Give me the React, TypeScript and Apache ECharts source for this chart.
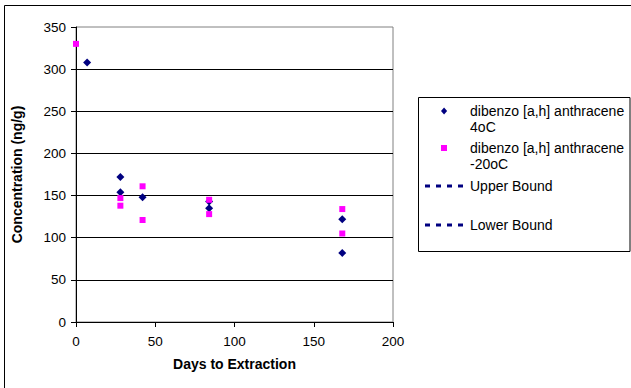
import React, { useEffect, useRef } from "react";
import * as echarts from "echarts";

const FONT = "'Liberation Sans', Arial, Helvetica, sans-serif";

const seriesNames = [
  "dibenzo [a,h] anthracene\n4oC",
  "dibenzo [a,h] anthracene\n-20oC",
  "Upper Bound",
  "Lower Bound",
];

// Days to extraction / concentration (ng/g)
const days4C = [7, 28, 28, 42, 84, 84, 168, 168];
const conc4C = [308, 172, 154, 148, 143, 135, 122, 82];
const daysMinus20C = [0, 28, 28, 42, 42, 84, 84, 168, 168];
const concMinus20C = [330, 147, 138, 161, 121, 145, 128, 134, 105];

// axis ticks
const xTicks = [0, 50, 100, 150, 200];
const yTicks = [0, 50, 100, 150, 200, 250, 300, 350];

const DIAMOND = "path://M3.5,0L7,4L3.5,8L0,4Z";
const SQUARE = "path://M0,0L6,0L6,6L0,6Z";
const DASHES = "path://M0,0h5v3h-5zM11,0h5v3h-5zM22,0h5v3h-5zM33,0h5v3h-5z";

const legendItem = (
  name: string,
  left: number,
  top: number,
  icon: string,
  h: number,
  color: string,
  multiLine: boolean
) => ({
  show: true,
  orient: "vertical",
  left,
  top,
  padding: 0,
  itemWidth: 42,
  itemHeight: h,
  icon,
  symbolKeepAspect: true,
  selectedMode: false,
  data: [{ name, icon }],
  itemStyle: { color, borderWidth: 0 },
  formatter: multiLine ? (n: string) => "\n" + n : undefined,
  textStyle: {
    fontFamily: FONT,
    fontSize: 14,
    color: "#000",
    lineHeight: 16,
  },
});

export default function App() {
  const ref = useRef<HTMLDivElement>(null);

  useEffect(() => {
    document.body.style.margin = "0";
    if (!ref.current) return;
    const chart = echarts.init(ref.current, null, { renderer: "svg" });

    const axisText = { fontFamily: FONT, fontSize: 13.5, color: "#000" };
    const nameText = { fontFamily: FONT, fontSize: 14, fontWeight: "bold", color: "#000" };

    chart.setOption({
      animation: false,
      backgroundColor: "#fff",
      grid: {
        left: 76,
        right: 238,
        top: 27,
        bottom: 66,
        show: true,
        backgroundColor: "#fff",
        borderColor: "#808080",
        borderWidth: 1,
        containLabel: false,
      },
      xAxis: {
        type: "value",
        min: xTicks[0],
        max: xTicks[xTicks.length - 1],
        interval: xTicks[1] - xTicks[0],
        name: "Days to Extraction",
        nameLocation: "middle",
        nameGap: 35,
        nameTextStyle: nameText,
        axisLine: { show: true, onZero: false, lineStyle: { color: "#000", width: 1 } },
        axisTick: { show: true, inside: false, length: 5, lineStyle: { color: "#000" } },
        axisLabel: { ...axisText, margin: 12 },
        splitLine: { show: false },
      },
      yAxis: {
        type: "value",
        min: yTicks[0],
        max: yTicks[yTicks.length - 1],
        interval: yTicks[1] - yTicks[0],
        name: "Concentration (ng/g)",
        nameLocation: "middle",
        nameRotate: 90,
        nameGap: 52,
        nameTextStyle: nameText,
        axisLine: { show: true, onZero: false, lineStyle: { color: "#000", width: 1 } },
        axisTick: { show: true, inside: false, length: 5, lineStyle: { color: "#000" } },
        axisLabel: { ...axisText, margin: 10 },
        splitLine: { show: true, showMaxLine: false, lineStyle: { color: "#000", width: 1 } },
      },
      legend: [
        legendItem(seriesNames[0], 441, 87, DIAMOND, 7, "#000080", true),
        legendItem(seriesNames[1], 441, 124, SQUARE, 6, "#FF00FF", true),
        legendItem(seriesNames[2], 425, 178, DASHES, 3, "#000080", false),
        legendItem(seriesNames[3], 425, 217, DASHES, 3, "#000080", false),
      ],
      series: [
        {
          name: seriesNames[0],
          type: "scatter",
          symbol: "diamond",
          symbolSize: 8,
          itemStyle: { color: "#000080", opacity: 1 },
          data: days4C.map((d, i) => [d, conc4C[i]]),
          z: 3,
        },
        {
          name: seriesNames[1],
          type: "scatter",
          symbol: "rect",
          symbolSize: 6,
          itemStyle: { color: "#FF00FF", opacity: 1 },
          data: daysMinus20C.map((d, i) => [d, concMinus20C[i]]),
          z: 4,
        },
        {
          name: seriesNames[2],
          type: "line",
          symbol: "none",
          color: "#000080",
          lineStyle: { color: "#000080", type: [5, 6], width: 2.5 },
          data: [],
        },
        {
          name: seriesNames[3],
          type: "line",
          symbol: "none",
          color: "#000080",
          lineStyle: { color: "#000080", type: [5, 6], width: 2.5 },
          data: [],
        },
      ],
      graphic: [
        {
          type: "rect",
          silent: true,
          z: 100,
          shape: { x: 4.5, y: 5.5, width: 700, height: 500 },
          style: { fill: "none", stroke: "#000", lineWidth: 1 },
        },
        {
          type: "rect",
          silent: true,
          z: 100,
          shape: { x: 418.5, y: 97.5, width: 211.5, height: 154 },
          style: { fill: "none", stroke: "#000", lineWidth: 1 },
        },
      ],
    });

    return () => chart.dispose();
  }, []);

  return <div ref={ref} style={{ width: 631, height: 388 }} />;
}
